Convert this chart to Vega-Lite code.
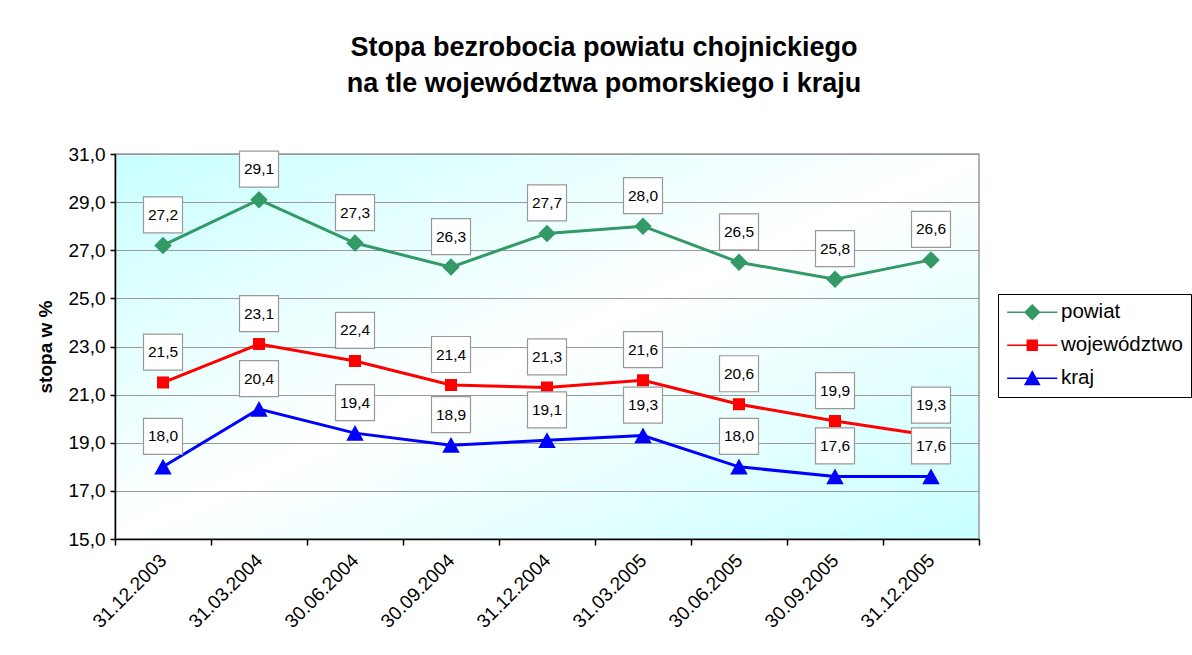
{
  "$schema": "https://vega.github.io/schema/vega-lite/v6.json",
  "autosize": {"type": "none"},
  "width": 864,
  "height": 385,
  "padding": {"left": 115, "top": 154, "right": 213, "bottom": 116},
  "background": "white",
  "config": {
    "font": "Liberation Sans",
    "locale": {"number": {"decimal": ",", "thousands": " ", "grouping": [3], "currency": ["", " zł"]}},
    "view": {"stroke": "#999999", "strokeWidth": 1.5,
      "fill": {"gradient": "linear", "x1": 0, "y1": 0, "x2": 1, "y2": 1,
        "stops": [{"offset": 0, "color": "#c8ffff"}, {"offset": 0.5, "color": "#ffffff"}, {"offset": 1, "color": "#c8ffff"}]}}
  },
  "title": {
    "text": ["Stopa bezrobocia powiatu chojnickiego", "na tle województwa pomorskiego i kraju"],
    "fontSize": 27, "fontWeight": "bold", "font": "Liberation Sans", "color": "black",
    "lineHeight": 36, "anchor": "middle", "frame": "group", "dx": 57, "offset": 47
  },
  "data": {"values": [
    {"date": "31.12.2003", "series": "powiat", "value": 27.2},
    {"date": "31.03.2004", "series": "powiat", "value": 29.1},
    {"date": "30.06.2004", "series": "powiat", "value": 27.3},
    {"date": "30.09.2004", "series": "powiat", "value": 26.3},
    {"date": "31.12.2004", "series": "powiat", "value": 27.7},
    {"date": "31.03.2005", "series": "powiat", "value": 28.0},
    {"date": "30.06.2005", "series": "powiat", "value": 26.5},
    {"date": "30.09.2005", "series": "powiat", "value": 25.8},
    {"date": "31.12.2005", "series": "powiat", "value": 26.6},
    {"date": "31.12.2003", "series": "województwo", "value": 21.5},
    {"date": "31.03.2004", "series": "województwo", "value": 23.1},
    {"date": "30.06.2004", "series": "województwo", "value": 22.4},
    {"date": "30.09.2004", "series": "województwo", "value": 21.4},
    {"date": "31.12.2004", "series": "województwo", "value": 21.3},
    {"date": "31.03.2005", "series": "województwo", "value": 21.6},
    {"date": "30.06.2005", "series": "województwo", "value": 20.6},
    {"date": "30.09.2005", "series": "województwo", "value": 19.9},
    {"date": "31.12.2005", "series": "województwo", "value": 19.3},
    {"date": "31.12.2003", "series": "kraj", "value": 18.0},
    {"date": "31.03.2004", "series": "kraj", "value": 20.4},
    {"date": "30.06.2004", "series": "kraj", "value": 19.4},
    {"date": "30.09.2004", "series": "kraj", "value": 18.9},
    {"date": "31.12.2004", "series": "kraj", "value": 19.1},
    {"date": "31.03.2005", "series": "kraj", "value": 19.3},
    {"date": "30.06.2005", "series": "kraj", "value": 18.0},
    {"date": "30.09.2005", "series": "kraj", "value": 17.6},
    {"date": "31.12.2005", "series": "kraj", "value": 17.6}
  ]},
  "encoding": {
    "x": {"field": "date", "type": "nominal", "sort": null, "title": null,
      "scale": {"paddingInner": 0, "paddingOuter": 0},
      "axis": {"tickBand": "extent", "labelAngle": -45, "labelAlign": "right", "labelBaseline": "middle",
        "labelFontSize": 19, "labelColor": "black", "labelPadding": 12, "tickSize": 6, "tickColor": "black",
        "domainColor": "black", "domainWidth": 1.5, "tickWidth": 1.5, "grid": false}},
    "y": {"field": "value", "type": "quantitative",
      "scale": {"domain": [15, 31], "nice": false, "zero": false},
      "axis": {"title": "stopa w %", "titleFontSize": 19, "titleFontWeight": "bold", "titleColor": "black", "titlePadding": 13,
        "values": [15, 17, 19, 21, 23, 25, 27, 29, 31], "format": ".1f",
        "labelFontSize": 19, "labelColor": "black", "labelPadding": 5, "tickSize": 5, "tickColor": "black", "tickWidth": 1.5,
        "domainColor": "black", "domainWidth": 1.5, "grid": true, "gridColor": "#999999", "gridWidth": 1}}
  },
  "layer": [
    {
      "mark": {"type": "line", "strokeWidth": 3},
      "encoding": {
        "color": {"field": "series", "type": "nominal", "sort": null, "title": null,
          "scale": {"domain": ["powiat", "województwo", "kraj"], "range": ["#339966", "#ff0000", "#0000ff"]}}
      }
    },
    {
      "mark": {"type": "point", "filled": true, "size": 196, "opacity": 1, "strokeWidth": 0},
      "encoding": {
        "color": {"field": "series", "type": "nominal", "sort": null, "title": null,
          "legend": {"orient": "none", "legendX": 883, "legendY": 140, "strokeColor": "black", "fillColor": "white",
            "padding": 8, "labelFontSize": 20.5, "labelColor": "black", "labelOffset": 18.5, "symbolOffset": 16, "rowPadding": 12,
            "symbolSize": 130,
            "encode": {"symbols": {"update": {
              "fill": {"scale": "color", "field": "value"},
              "stroke": {"scale": "color", "field": "value"},
              "strokeWidth": {"value": 3}, "strokeOpacity": {"value": 1}, "opacity": {"value": 1}}}}}},
        "shape": {"field": "series", "type": "nominal", "sort": null, "title": null,
          "scale": {"domain": ["powiat", "województwo", "kraj"],
            "range": ["M-4.4,0L4.4,0M0,-1.25L1.25,0L0,1.25L-1.25,0Z",
                      "M-4.4,0L4.4,0M-0.86,-0.86L0.86,-0.86L0.86,0.86L-0.86,0.86Z",
                      "M-4.4,0L4.4,0M0,-1.15L1.25,1.1L-1.25,1.1Z"]},
          "legend": {"orient": "none", "legendX": 883, "legendY": 140, "strokeColor": "black", "fillColor": "white",
            "padding": 8, "labelFontSize": 20.5, "labelColor": "black", "labelOffset": 18.5, "symbolOffset": 16, "rowPadding": 12,
            "symbolSize": 130}}
      }
    },
    {
      "mark": {"type": "point", "shape": "M-1,-0.923L1,-0.923L1,0.923L-1,0.923Z", "size": 1521,
        "filled": true, "fill": "white", "stroke": "#999999", "strokeWidth": 1.2, "opacity": 1, "yOffset": -30.5}
    },
    {
      "mark": {"type": "text", "fontSize": 15.5, "color": "black", "baseline": "middle", "align": "center", "yOffset": -30.5},
      "encoding": {"text": {"field": "value", "type": "quantitative", "format": ".1f"}}
    }
  ]
}
